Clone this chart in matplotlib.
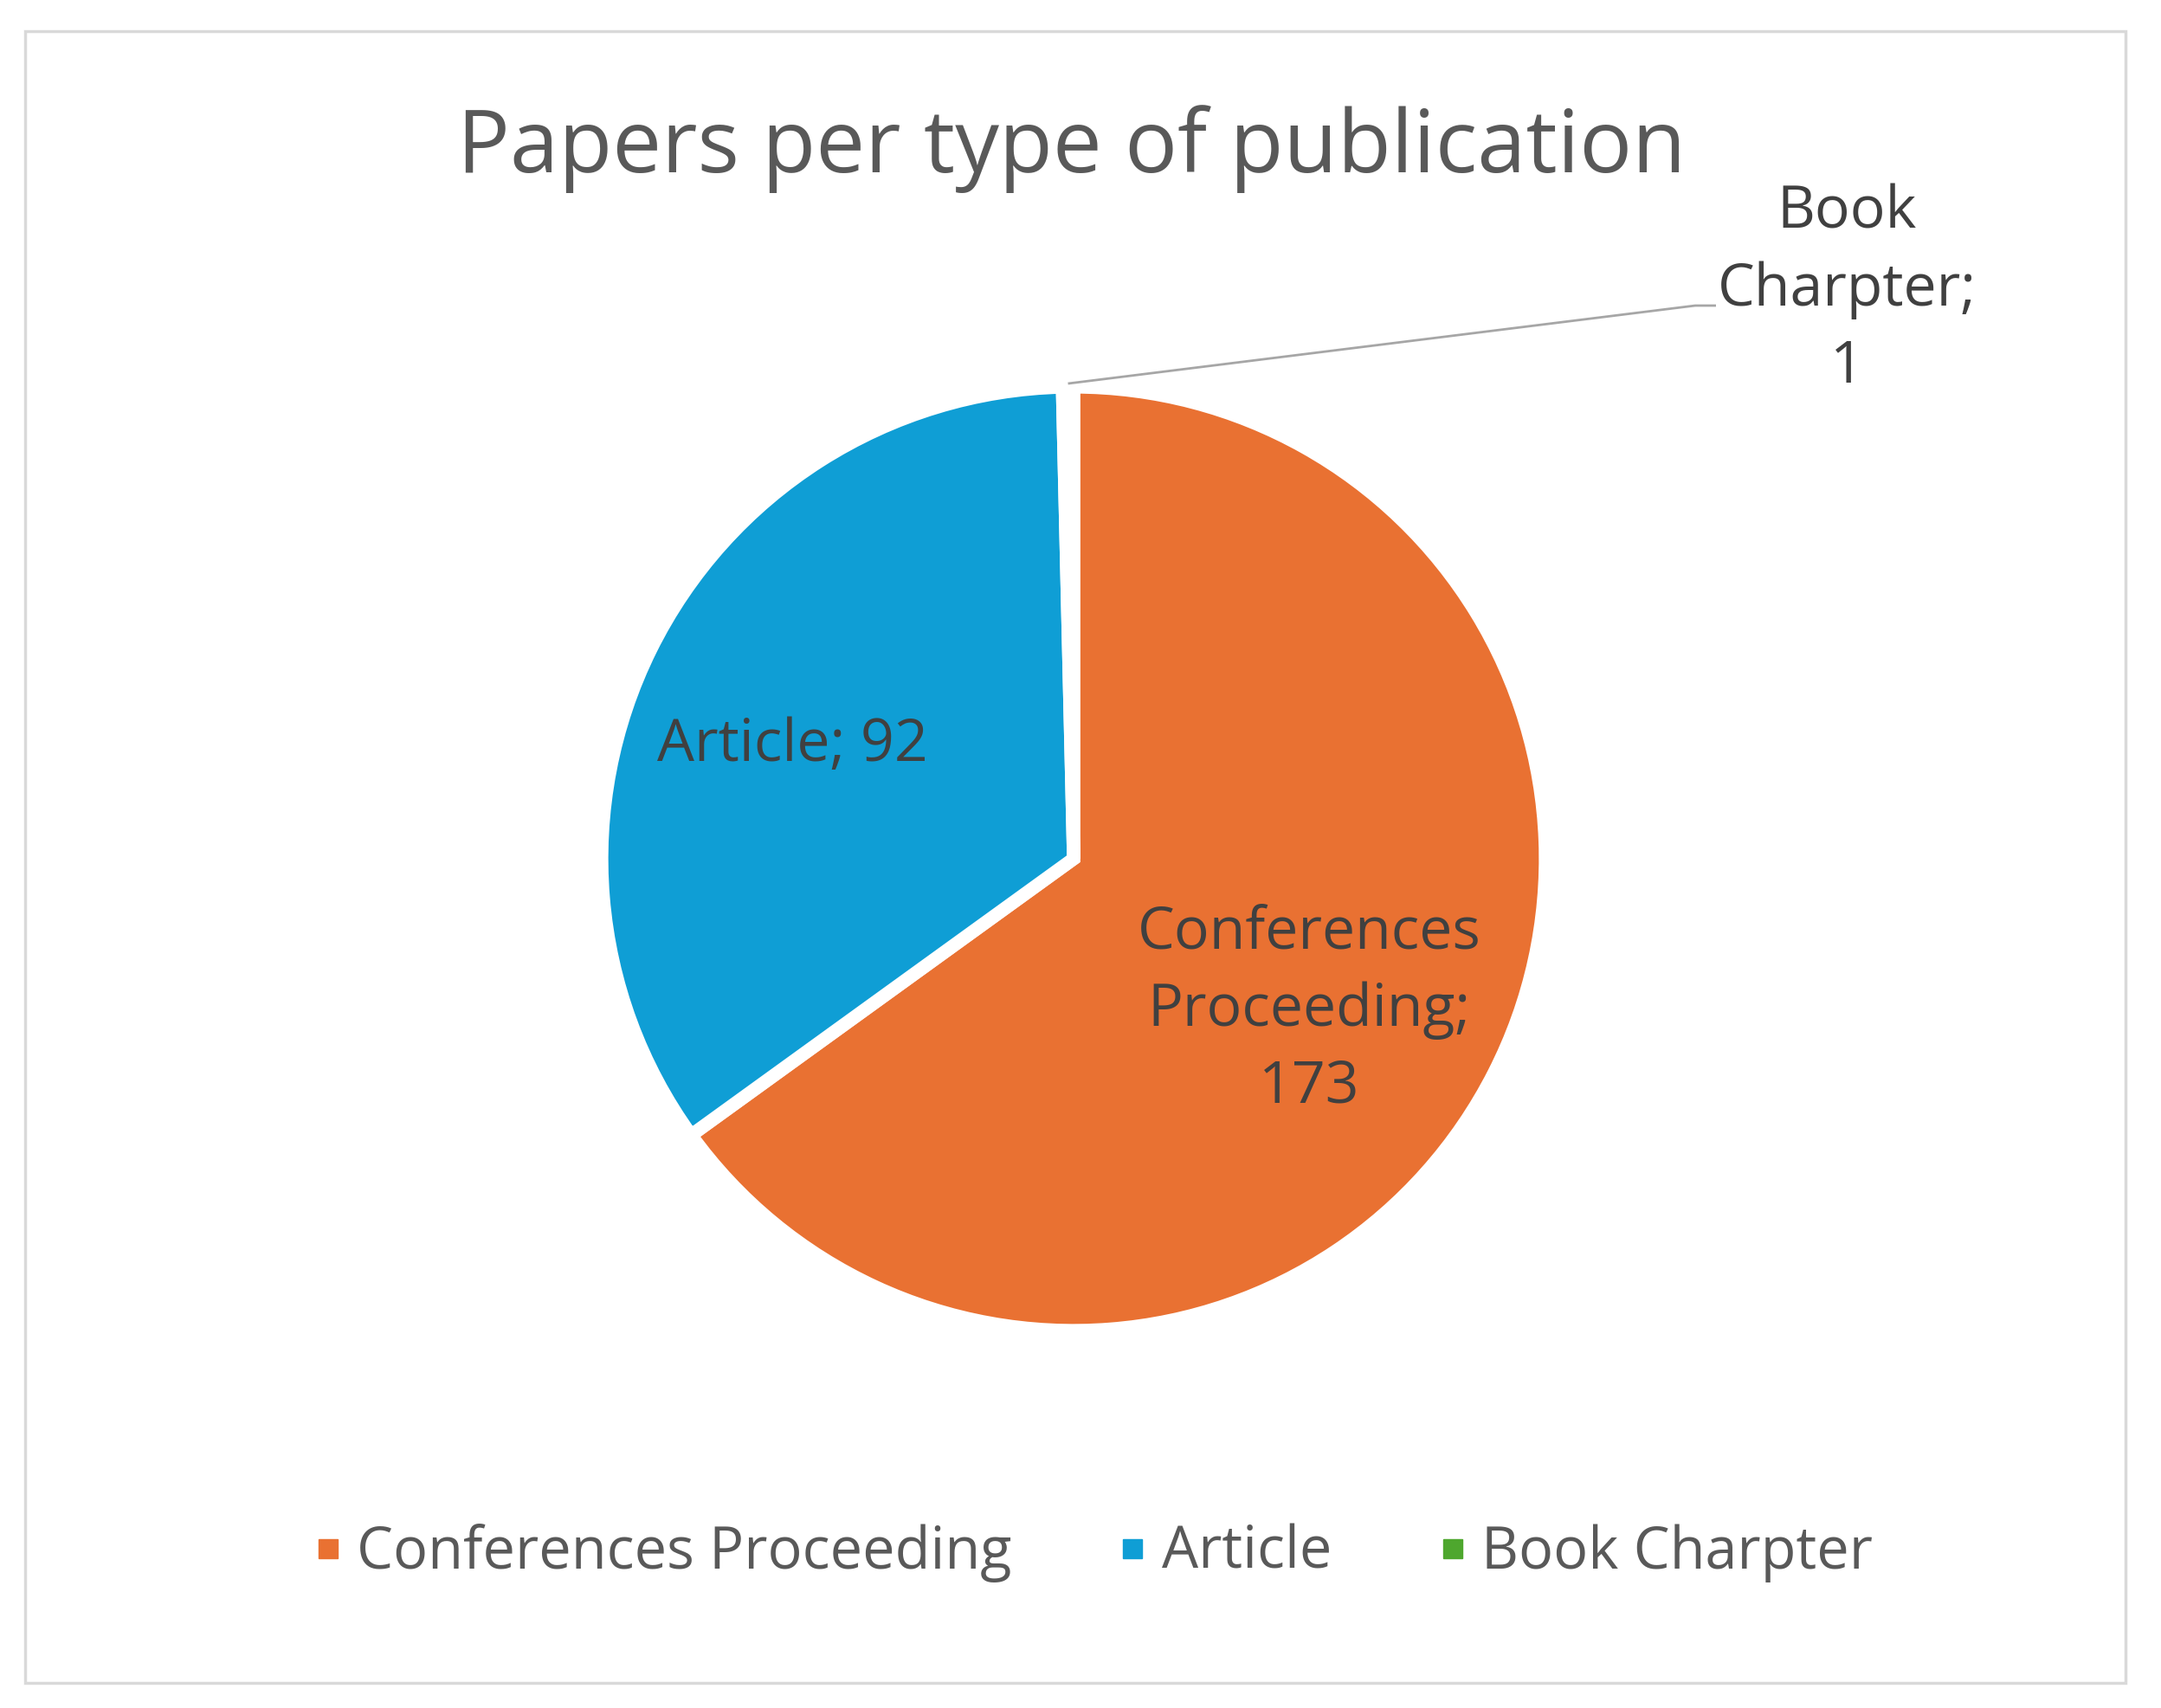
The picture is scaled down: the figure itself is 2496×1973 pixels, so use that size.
import matplotlib
matplotlib.use('Agg')
import matplotlib.pyplot as plt
from matplotlib.lines import Line2D
from matplotlib.patches import Rectangle
import numpy as np

plt.rcParams['font.family'] = ['Open Sans', 'DejaVu Sans']

title = 'Papers per type of publication'
categories = ['Conferences Proceeding', 'Article', 'Book Charpter']
label_lines = ['Conferences\nProceeding;\n{}', 'Article; {}', 'Book\nCharpter;\n{}']
values = [173, 92, 1]
colors = ['#E97132', '#0F9ED5', '#4EA72E']

W, H = 2496, 1973
fig = plt.figure(figsize=(W / 100, H / 100), dpi=100)
ax = fig.add_axes([0, 0, 1, 1])

cx, cy, r = 1240, H - 992, 545
wedges, _ = ax.pie(values, colors=colors, startangle=90, counterclock=False,
                   center=(cx, cy), radius=r,
                   wedgeprops=dict(edgecolor='white', linewidth=11))
ax.set_xlim(0, W); ax.set_ylim(0, H)
ax.set_aspect('equal')
ax.axis('off')

# chart border
ax.add_patch(Rectangle((29, H - 1944), 2426, 1908, fill=False,
                       edgecolor='#D9D9D9', linewidth=2.5))

ax.text(1238, H - 172, title, ha='center', va='center', fontsize=73, color='#595959')

txt = '#404040'
ax.text(1512, H - 1167, label_lines[0].format(values[0]), ha='center', va='center',
        fontsize=49, color=txt, linespacing=1.42)
ax.text(915, H - 861, label_lines[1].format(values[1]), ha='center', va='center',
        fontsize=49, color=txt)
ax.text(2133, H - 335, label_lines[2].format(values[2]), ha='center', va='center',
        fontsize=49, color=txt, linespacing=1.42)

# leader line for the small slice
w = wedges[2]
a = np.deg2rad((w.theta1 + w.theta2) / 2)
x0, y0 = cx + r * np.cos(a), cy + r * np.sin(a)
ax.plot([x0, 1958, 1982], [y0 + 4, H - 353, H - 353], color='#A6A6A6', lw=2, solid_capstyle='butt')

handles = [Line2D([], [], marker='s', ls='', color=c, markersize=16) for c in colors]
fig.legend(handles, categories, loc='center', bbox_to_anchor=(0.5045, 1 - 1794 / H), ncol=3,
           frameon=False, fontsize=48, labelcolor='#595959', handletextpad=0.15,
           columnspacing=1.75, handlelength=0.7)

plt.savefig('out.png', dpi=100)
